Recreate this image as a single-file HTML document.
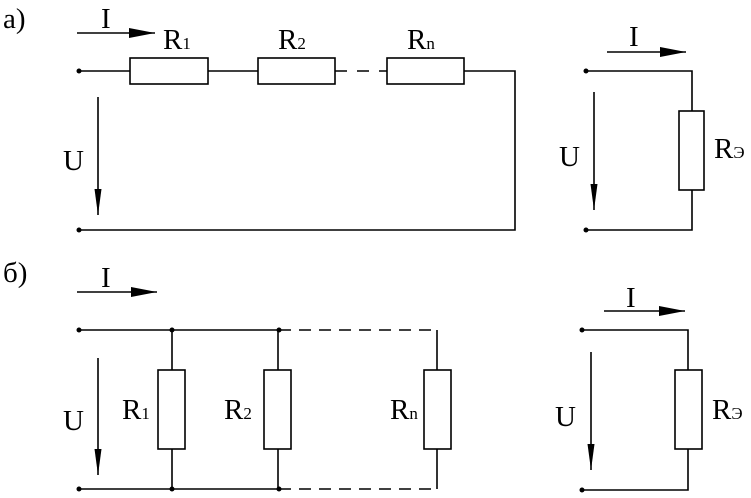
<!DOCTYPE html>
<html><head><style>html,body{margin:0;padding:0;background:#fff}svg{display:block}</style></head>
<body>
<svg width="751" height="498" viewBox="0 0 751 498" xmlns="http://www.w3.org/2000/svg" font-family="Liberation Serif, serif" fill="#000">
<defs>
<marker id="ah" viewBox="0 0 26 10" refX="26" refY="5" markerWidth="26" markerHeight="10" markerUnits="userSpaceOnUse" orient="auto">
<path d="M0,0 L26,5 L0,10 Z"/>
</marker>
<marker id="av" viewBox="0 0 26 7" refX="26" refY="3.5" markerWidth="26" markerHeight="7" markerUnits="userSpaceOnUse" orient="auto">
<path d="M0,0 L26,3.5 L0,7 Z"/>
</marker>
</defs>
<g stroke="#000" stroke-width="1.6" fill="none">
<line x1="79" y1="71" x2="130" y2="71"/>
<rect x="130" y="58" width="78" height="26"/>
<line x1="208" y1="71" x2="258" y2="71"/>
<rect x="258" y="58" width="77" height="26"/>
<line x1="335" y1="71" x2="387" y2="71" stroke-dasharray="12,10"/>
<rect x="387" y="58" width="77" height="26"/>
<polyline points="464,71 515,71 515,230 79,230"/>
<line x1="77" y1="33" x2="155" y2="33" marker-end="url(#ah)"/>
<line x1="98" y1="97" x2="98" y2="215" marker-end="url(#av)"/>
<polyline points="586,71 692,71 692,111"/>
<rect x="679" y="111" width="25" height="79"/>
<polyline points="692,190 692,230 586,230"/>
<line x1="607" y1="52" x2="686" y2="52" marker-end="url(#ah)"/>
<line x1="594" y1="92" x2="594" y2="210" marker-end="url(#av)"/>
<line x1="79" y1="330" x2="279" y2="330"/>
<line x1="279" y1="330" x2="437" y2="330" stroke-dasharray="12,8"/>
<line x1="79" y1="489" x2="279" y2="489"/>
<line x1="279" y1="489" x2="437" y2="489" stroke-dasharray="12,8"/>
<line x1="172" y1="330" x2="172" y2="370"/><rect x="158" y="370" width="27" height="79"/><line x1="172" y1="449" x2="172" y2="489"/>
<line x1="278" y1="330" x2="278" y2="370"/><rect x="264" y="370" width="27" height="79"/><line x1="278" y1="449" x2="278" y2="489"/>
<line x1="437" y1="330" x2="437" y2="370"/><rect x="424" y="370" width="27" height="79"/><line x1="437" y1="449" x2="437" y2="489"/>
<line x1="77" y1="292" x2="157" y2="292" marker-end="url(#ah)"/>
<line x1="98" y1="358" x2="98" y2="475" marker-end="url(#av)"/>
<polyline points="582,330 688,330 688,370"/>
<rect x="675" y="370" width="27" height="79"/>
<polyline points="688,449 688,490 582,490"/>
<line x1="604" y1="311" x2="685" y2="311" marker-end="url(#ah)"/>
<line x1="591" y1="352" x2="591" y2="470" marker-end="url(#av)"/>
</g>
<g>
<circle cx="79" cy="71" r="2.5"/><circle cx="79" cy="230" r="2.5"/>
<circle cx="586" cy="71" r="2.5"/><circle cx="586" cy="230" r="2.5"/>
<circle cx="79" cy="330" r="2.5"/><circle cx="172" cy="330" r="2.5"/><circle cx="279" cy="330" r="2.5"/>
<circle cx="79" cy="489" r="2.5"/><circle cx="172" cy="489" r="2.5"/><circle cx="279" cy="489" r="2.5"/>
<circle cx="582" cy="330" r="2.5"/><circle cx="582" cy="490" r="2.5"/>
</g>
<g font-size="29">
<text x="3" y="28">а)</text>
<text x="3" y="282">б)</text>
<text x="101" y="28">I</text>
<text x="163" y="49">R<tspan font-size="17">1</tspan></text>
<text x="278" y="49">R<tspan font-size="17">2</tspan></text>
<text x="407" y="49">R<tspan font-size="17">n</tspan></text>
<text x="63" y="170">U</text>
<text x="629" y="46">I</text>
<text x="559" y="166">U</text>
<text x="714" y="158">R<tspan font-size="17">Э</tspan></text>
<text x="101" y="287">I</text>
<text x="63" y="430">U</text>
<text x="122" y="419">R<tspan font-size="17">1</tspan></text>
<text x="224" y="419">R<tspan font-size="17">2</tspan></text>
<text x="390" y="419">R<tspan font-size="17">n</tspan></text>
<text x="626" y="307">I</text>
<text x="555" y="426">U</text>
<text x="712" y="419">R<tspan font-size="17">Э</tspan></text>
</g>
</svg>
</body></html>
